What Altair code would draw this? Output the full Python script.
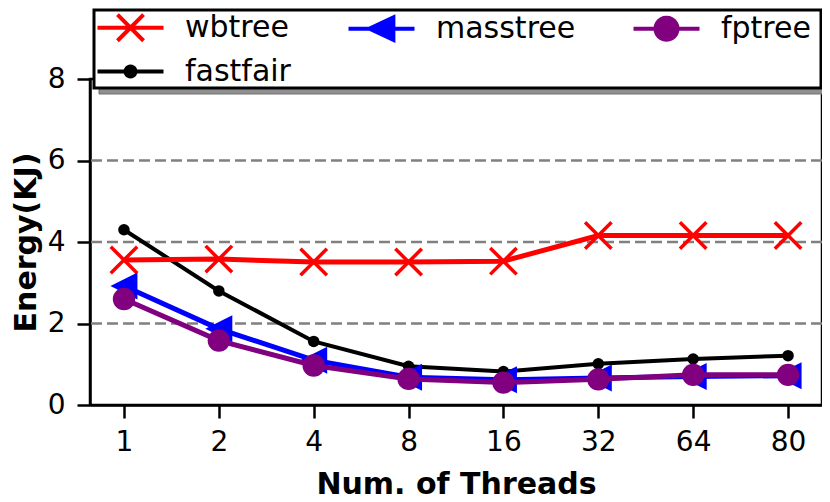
import math
import altair as alt
import pandas as pd

# ---- data ----
threads = ["1", "2", "4", "8", "16", "32", "64", "80"]
wbtree = [3.56, 3.58, 3.51, 3.51, 3.53, 4.16, 4.16, 4.16]
masstree = [2.92, 1.87, 1.10, 0.68, 0.62, 0.66, 0.70, 0.72]
fptree = [2.60, 1.58, 0.97, 0.64, 0.55, 0.63, 0.74, 0.74]
fastfair = [4.30, 2.80, 1.56, 0.95, 0.82, 1.01, 1.13, 1.21]
series_names = ["wbtree", "masstree", "fptree", "fastfair"]
y_ticks = [0, 2, 4, 6, 8]
grid_values = [2, 4, 6]

# ---- styles ----
colors = ["#ff0000", "#0000ff", "#800080", "#000000"]
FONT = "DejaVu Sans"


def circle_path(r, n=24, prefix=""):
    pts = [(r * math.cos(2 * math.pi * k / n), r * math.sin(2 * math.pi * k / n)) for k in range(n)]
    d = "M%.3f,%.3f" % pts[0] + "".join("L%.3f,%.3f" % p for p in pts[1:]) + "Z"
    return prefix + d


# legend symbols: unit = 16.5 px, horizontal line spans 66 px
LINE = "M-2,0L2,0"
legend_paths = [
    LINE + "M-0.79,-0.79L0.79,0.79M-0.79,0.79L0.79,-0.79",
    LINE + "M-0.72,0L0.72,-0.68L0.72,0.68Z",
    circle_path(0.67, prefix=LINE),
    circle_path(0.3, prefix=LINE),
]

values = {"wbtree": wbtree, "masstree": masstree, "fptree": fptree, "fastfair": fastfair}
rows = []
for s in series_names:
    for t, v in zip(threads, values[s]):
        rows.append({"threads": t, "energy": v, "series": s})
df = pd.DataFrame(rows)

W, H = 732, 326

x_enc = alt.X("threads:O", sort=threads,
              scale=alt.Scale(type="point", padding=0.358),
              axis=alt.Axis(title="Num. of Threads", labelAngle=0, titleY=88,
                            titleBaseline="alphabetic"))
y_enc = alt.Y("energy:Q", scale=alt.Scale(domain=[0, 8], nice=False, zero=True),
              axis=alt.Axis(title="Energy(KJ)", values=y_ticks, grid=False,
                            titleX=-64, titleY=H / 2, titleBaseline="middle",
                            titleAngle=270))

grid = alt.Chart(pd.DataFrame({"g": grid_values})).mark_rule(
    color="#808080", strokeWidth=2.5, strokeDash=[11, 5]
).encode(y=alt.Y("g:Q", scale=alt.Scale(domain=[0, 8], nice=False)))

marker_specs = {
    "wbtree": dict(shape="M-1,-1L1,1M-1,1L1,-1", size=700, filled=False, strokeWidth=3.5),
    "masstree": dict(shape="M-1,0L1,-1L1,1Z", size=729, filled=True, strokeWidth=1),
    "fptree": dict(shape="circle", size=500, filled=True, strokeWidth=1),
    "fastfair": dict(shape="circle", size=133, filled=True, strokeWidth=1),
}
line_widths = {"wbtree": 5, "masstree": 5, "fptree": 5, "fastfair": 4}
draw_order = ["fastfair", "wbtree", "masstree", "fptree"]

layers = [grid]
for s in draw_order:
    c = colors[series_names.index(s)]
    base = alt.Chart(df).transform_filter(alt.datum.series == s)
    layers.append(base.mark_line(color=c, strokeWidth=line_widths[s]).encode(x=x_enc, y=y_enc))
    layers.append(base.mark_point(color=c, opacity=1, **marker_specs[s]).encode(x=x_enc, y=y_enc))

# legend frame (shadow + white box)
box = pd.DataFrame({"k": [0]})
shadow = alt.Chart(box).mark_rect(fill="#909090", stroke="#707070", strokeWidth=1).encode(
    x=alt.value(9), x2=alt.value(737), y=alt.value(-64), y2=alt.value(15))
frame = alt.Chart(box).mark_rect(fill="white", stroke="black", strokeWidth=3).encode(
    x=alt.value(4), x2=alt.value(731), y=alt.value(-69), y2=alt.value(9))
layers += [shadow, frame]

leg = alt.Legend(title=None, orient="none", legendX=22, legendY=-70, columns=3,
                 direction="horizontal", values=series_names,
                 labelFont=FONT, labelFontSize=30, labelColor="black",
                 symbolSize=1089, symbolStrokeWidth=4, labelOffset=36,
                 columnPadding=49, rowPadding=4, padding=0)
legend_layer = alt.Chart(df).transform_filter("false").mark_point(opacity=1, filled=True).encode(
    fill=alt.Fill("series:N", scale=alt.Scale(domain=series_names, range=colors), legend=leg),
    stroke=alt.Stroke("series:N", scale=alt.Scale(domain=series_names, range=colors), legend=leg),
    shape=alt.Shape("series:N", scale=alt.Scale(domain=series_names, range=legend_paths), legend=leg),
)
layers.append(legend_layer)

chart = alt.layer(*layers).resolve_scale(y="shared").properties(
    width=W, height=H,
    autosize=alt.AutoSizeParams(type="none"),
    padding={"left": 82, "top": 71, "right": 0, "bottom": 97},
).configure_view(stroke="black", strokeWidth=2.5).configure_axis(
    labelFont=FONT, labelFontSize=28, labelColor="black",
    titleFont=FONT, titleFontSize=30, titleFontWeight="bold", titleColor="black",
    domainColor="black", domainWidth=2.5, tickColor="black", tickWidth=2.5,
    tickSize=13, labelPadding=10, grid=False,
).configure_axisY(labelPadding=12)

chart.save("out.html", embed_options={"renderer": "svg", "actions": False})
